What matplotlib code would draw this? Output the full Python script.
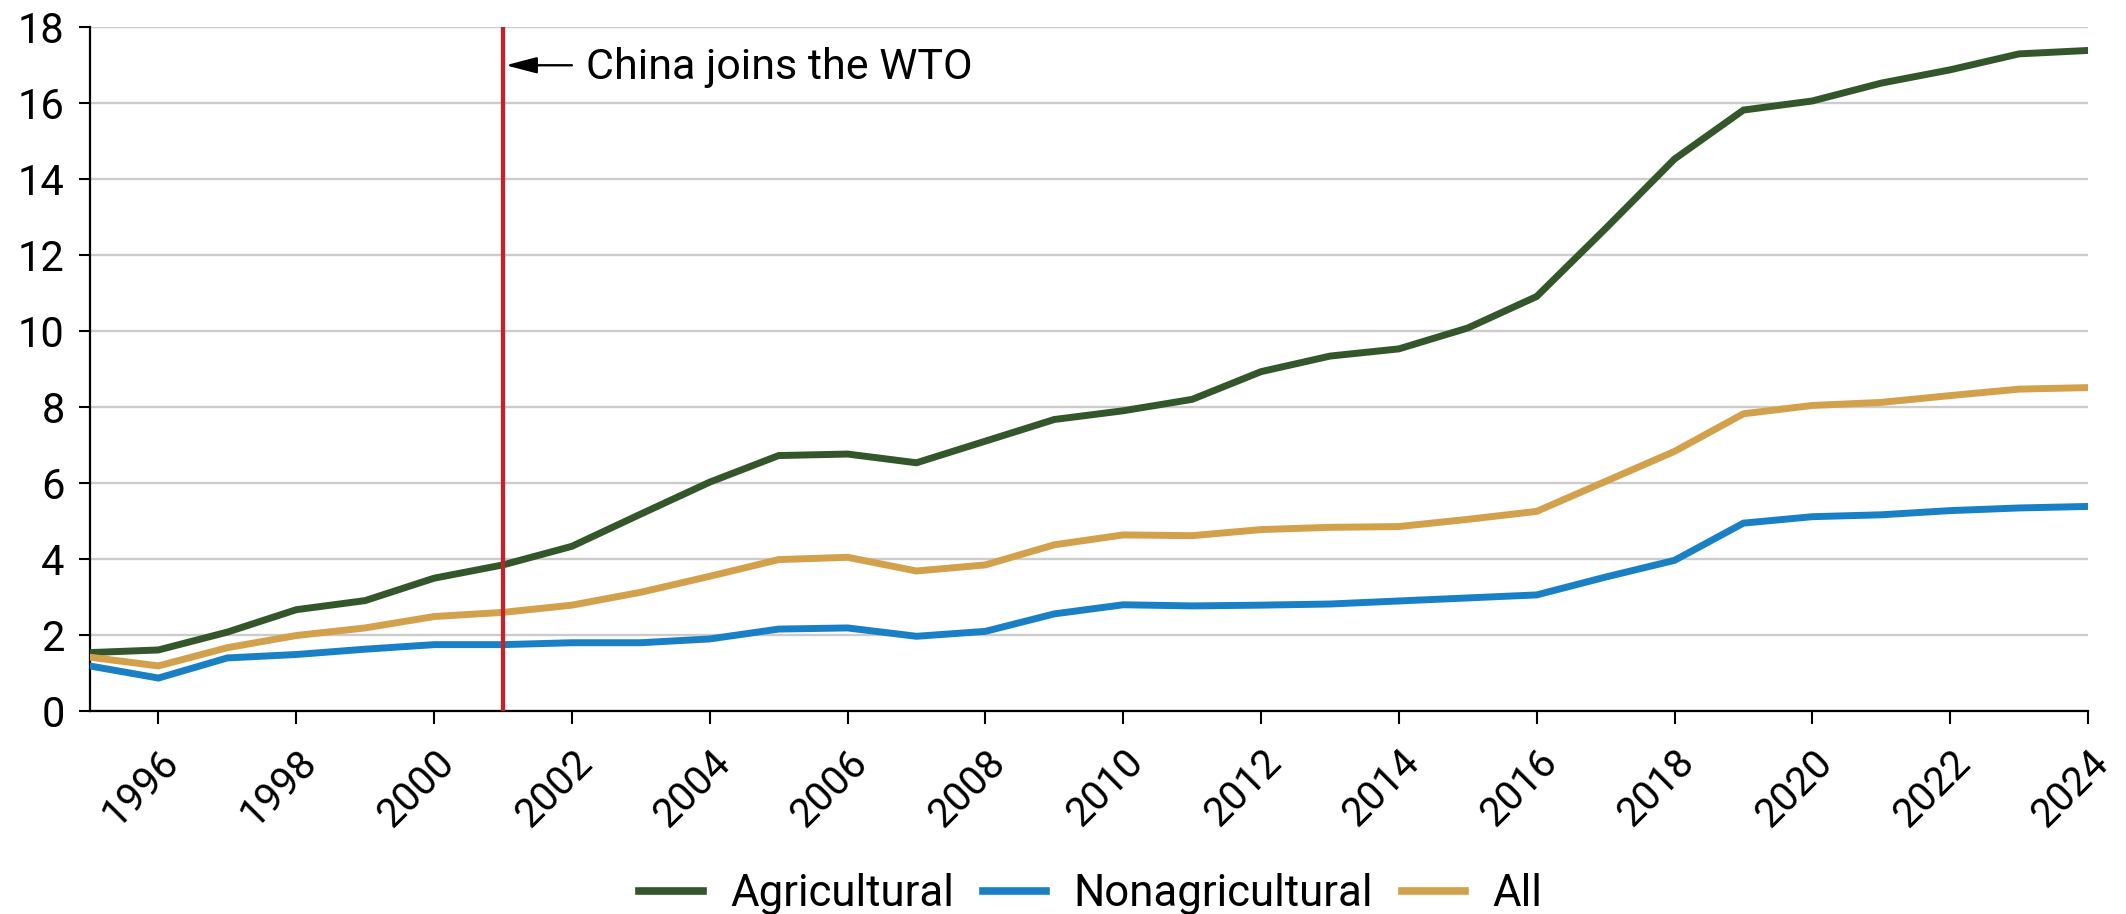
import matplotlib
matplotlib.use("Agg")
import matplotlib.pyplot as plt

years = list(range(1995, 2025))
agricultural = [1.53, 1.60, 2.07, 2.66, 2.90, 3.49, 3.84, 4.33, 5.18, 6.02, 6.72, 6.76, 6.53, 7.10, 7.67,
                7.90, 8.20, 8.93, 9.34, 9.53, 10.08, 10.91, 12.70, 14.53, 15.82, 16.06, 16.53, 16.88, 17.30, 17.39]
nonagricultural = [1.18, 0.86, 1.39, 1.48, 1.62, 1.74, 1.74, 1.79, 1.79, 1.89, 2.15, 2.18, 1.96, 2.09, 2.55,
                   2.79, 2.76, 2.78, 2.81, 2.89, 2.97, 3.05, 3.52, 3.96, 4.94, 5.11, 5.16, 5.27, 5.34, 5.38]
all_goods = [1.41, 1.18, 1.66, 1.98, 2.18, 2.48, 2.59, 2.78, 3.12, 3.54, 3.98, 4.04, 3.68, 3.84, 4.37,
             4.63, 4.61, 4.77, 4.83, 4.85, 5.04, 5.25, 6.04, 6.83, 7.82, 8.04, 8.12, 8.30, 8.47, 8.51]
series_names = ["Agricultural", "Nonagricultural", "All"]
colors = ["#33572a", "#1a80c6", "#d3a14b"]
xticks = list(range(1996, 2025, 2))
yticks = list(range(0, 19, 2))
wto_year = 2001
annotation = "China joins the WTO"

plt.rcParams['font.family'] = ['Roboto', 'DejaVu Sans']

W, H = 2126, 914
fig = plt.figure(figsize=(W / 100, H / 100), dpi=100)
left, right, top, bottom = 89.5, 2088.0, 27.3, 710.7
ax = fig.add_axes([left / W, 1 - bottom / H, (right - left) / W, (bottom - top) / H])

for name, vals, c in zip(series_names, [agricultural, nonagricultural, all_goods], colors):
    ax.plot(years, vals, color=c, lw=5, label=name, solid_joinstyle='miter', zorder=3)

ax.axvline(wto_year, color="#c1222b", lw=3.1, zorder=4)
# arrow and label
ax.annotate("", xy=(wto_year + 0.04, 17), xytext=(wto_year + 1.0, 17),
            arrowprops=dict(arrowstyle='-|>,head_length=0.95,head_width=0.25', color='black', lw=1.7,
                            shrinkA=0, shrinkB=0, mutation_scale=20), zorder=5)
ax.text(wto_year + 1.2, 16.63, annotation, va='baseline', ha='left', fontsize=31, zorder=5)

ax.set_xlim(1995, 2024)
ax.set_ylim(0, 18)
ax.set_yticks(yticks)
ax.set_xticks(xticks)
ax.set_xticklabels([str(x) for x in xticks], rotation=45, ha='right', va='top',
                   rotation_mode='anchor', fontsize=29)
ax.tick_params(axis='y', labelsize=30, length=8, width=1.5, pad=10)
ax.tick_params(axis='x', length=9, width=1.5, pad=14)

ax.grid(axis='y', color='#cccccc', lw=1.7, zorder=0)
ax.set_axisbelow(True)
for s in ['top', 'right']:
    ax.spines[s].set_visible(False)
for s in ['left', 'bottom']:
    ax.spines[s].set_linewidth(1.6)
    ax.spines[s].set_color('black')

leg = fig.legend(loc='center', bbox_to_anchor=(1091 / W, 1 - 894 / H), ncol=3, frameon=False,
                 fontsize=31.5, handlelength=1.45, handletextpad=0.63, columnspacing=0.65)
for h in leg.get_lines():
    h.set_linewidth(5.5)

fig.savefig("out.png", dpi=100)
